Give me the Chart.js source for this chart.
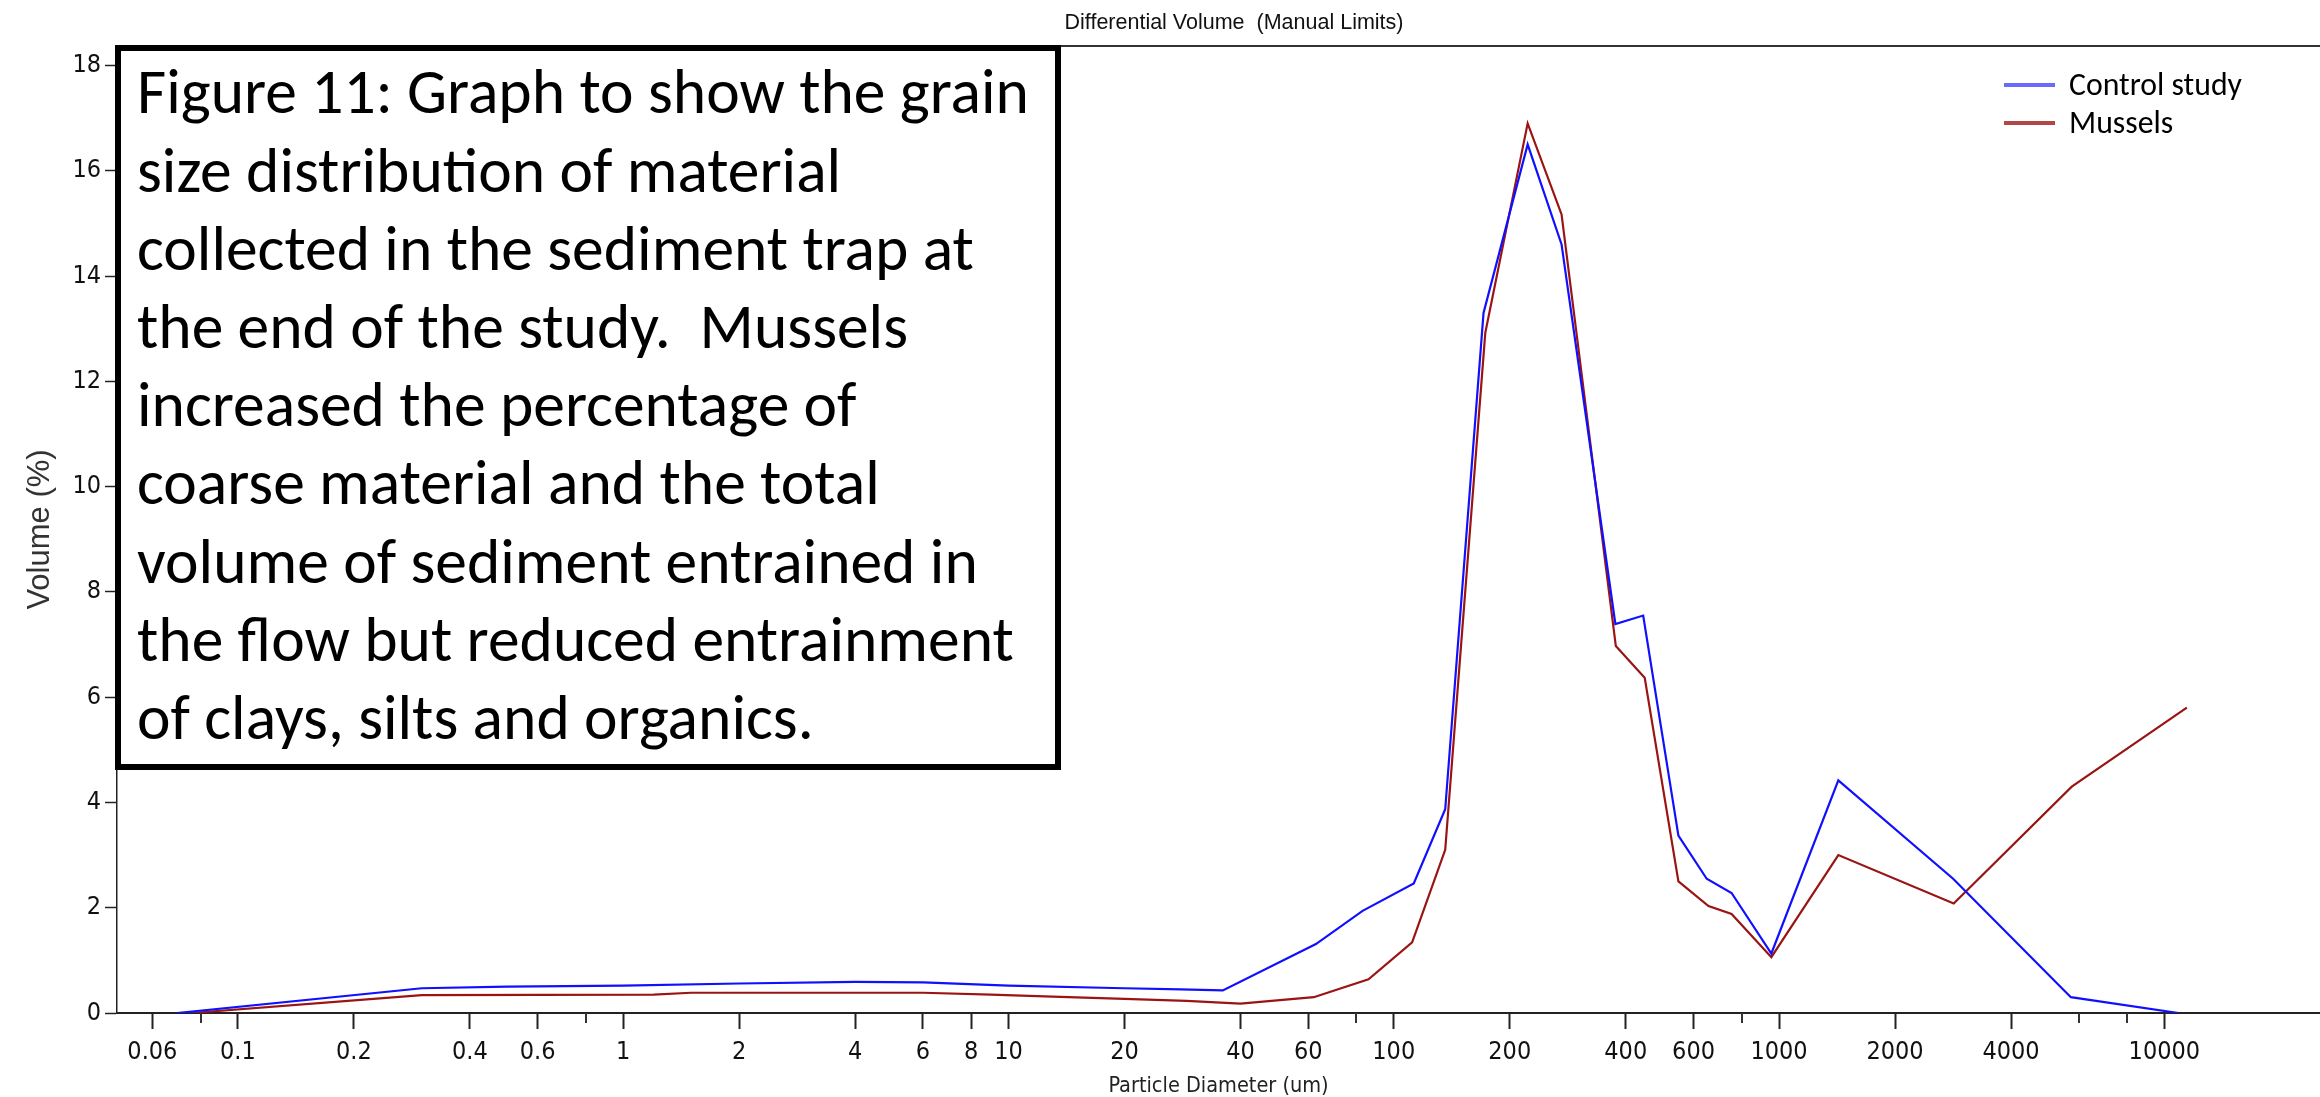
<!DOCTYPE html>
<html>
<head>
<meta charset="utf-8">
<title>Differential Volume</title>
<script src="https://cdn.jsdelivr.net/npm/chart.js@4.4.1/dist/chart.umd.min.js"></script>
<style>
  html, body { margin: 0; padding: 0; background: #fff; }
  #wrap { position: relative; width: 2320px; height: 1097px; overflow: hidden; }
  #chart { position: absolute; left: 0; top: 0; }
  #title {
    position: absolute; left: 0; width: 2468px; top: 9px; text-align: center;
    font: 21.5px 'Liberation Sans Narrow', 'Arial Narrow', sans-serif; color: #111; line-height: 26px;
  }
  #caption {
    position: absolute; left: 115px; top: 45px; width: 934px; height: 713px;
    border: 6px solid #000; background: #fff;
  }
  #caption-text { position: absolute; left: 16px; white-space: pre; color: #000; }
  .legend-row { position: absolute; left: 2004px; }
  .legend-row .swatch { position: absolute; left: 0; width: 51px; height: 4px; }
  .legend-row .label { position: absolute; left: 65px; white-space: pre; color: #000; }
</style>
</head>
<body>
<div id="wrap">
  <canvas id="chart" width="2320" height="1097"></canvas>
  <div id="title">Differential Volume&nbsp; (Manual Limits)</div>
  <div id="caption"><div id="caption-text"></div></div>
  <div id="legend"></div>
</div>
<script>
// Particle diameter (um) and volume (%)
const controlSize = [0.0695, 0.3, 0.5, 1, 2, 4, 6, 10, 20, 28, 36, 62.8, 83, 112.7, 136, 171, 222.6, 272.6, 376, 444, 548, 649, 753, 955, 1425, 2830, 5720, 10880];
const controlVol  = [0, 0.47, 0.5, 0.52, 0.56, 0.59, 0.58, 0.52, 0.47, 0.45, 0.43, 1.31, 1.94, 2.46, 3.87, 13.3, 16.5, 14.6, 7.39, 7.55, 3.37, 2.55, 2.28, 1.13, 4.42, 2.55, 0.3, 0];

const musselSize = [0.0757, 0.3, 1.2, 1.5, 6, 9, 13, 20, 29, 40, 62, 86, 111.6, 136, 172.8, 222.6, 272.6, 377, 448, 548, 656, 753, 955, 1425, 2840, 5750, 11440];
const musselVol  = [0, 0.34, 0.35, 0.385, 0.385, 0.35, 0.31, 0.27, 0.23, 0.18, 0.30, 0.64, 1.34, 3.1, 12.92, 16.9, 15.17, 6.97, 6.37, 2.5, 2.03, 1.88, 1.06, 3.0, 2.08, 4.3, 5.8];

const seriesNames = ['Control study', 'Mussels'];
const seriesColors = ['#1010ff', '#9a1414'];
const legendColors = ['#6a6aff', '#b04848'];

// axis ticks
const xLabelled = [0.06, 0.1, 0.2, 0.4, 0.6, 1, 2, 4, 6, 8, 10, 20, 40, 60, 100, 200, 400, 600, 1000, 2000, 4000, 10000];
const xMinor = [0.08, 0.8, 80, 800, 6000, 8000];
const yTicks = [0, 2, 4, 6, 8, 10, 12, 14, 16, 18];

const captionLines = [
  'Figure 11: Graph to show the grain',
  'size distribution of material',
  'collected in the sediment trap at',
  'the end of the study.  Mussels',
  'increased the percentage of',
  'coarse material and the total',
  'volume of sediment entrained in',
  'the flow but reduced entrainment',
  'of clays, silts and organics.'
];

const NARROW = "'Liberation Sans Narrow', 'Arial Narrow', 'DejaVu Sans Condensed', sans-serif";
const HUMANIST = "Carlito, Calibri, Lato, 'Open Sans', sans-serif";

// size a font so a string is a given width
const measureCtx = document.createElement('canvas').getContext('2d');
function fitSize(text, family, width) {
    measureCtx.font = '100px ' + family;
    return 100 * width / measureCtx.measureText(text).width;
}
function baselineOffset(size, family, lineHeight) {
    measureCtx.font = size + 'px ' + family;
    const m = measureCtx.measureText('Fg');
    const a = m.fontBoundingBoxAscent, d = m.fontBoundingBoxDescent;
    return (lineHeight - (a + d)) / 2 + a;
}

// Caption box
const capSize = fitSize(captionLines[0], HUMANIST, 892);
const capLH = 78.2;
const capText = document.getElementById('caption-text');
capText.style.font = capSize.toFixed(2) + 'px ' + HUMANIST;
capText.style.lineHeight = capLH + 'px';
capText.textContent = captionLines.join('\n');
// first baseline at y=114 on the page; box inner top is 51
capText.style.top = (114 - 51 - baselineOffset(capSize, HUMANIST, capLH)).toFixed(1) + 'px';

// Legend
const legSize = fitSize(seriesNames[0], HUMANIST, 173);
const legend = document.getElementById('legend');
seriesNames.forEach((name, i) => {
    const baseY = [95, 133][i];
    const row = document.createElement('div');
    row.className = 'legend-row';
    row.style.top = '0px';
    const sw = document.createElement('div');
    sw.className = 'swatch';
    sw.style.background = legendColors[i];
    sw.style.top = (baseY - 12) + 'px';
    const lb = document.createElement('div');
    lb.className = 'label';
    lb.style.font = legSize.toFixed(2) + 'px ' + HUMANIST;
    lb.style.lineHeight = '40px';
    lb.style.top = (baseY - baselineOffset(legSize, HUMANIST, 40)).toFixed(1) + 'px';
    lb.textContent = name;
    row.appendChild(sw);
    row.appendChild(lb);
    legend.appendChild(row);
});

// top frame line + short unlabeled ticks
const frameAndMinorTicks = {
    id: 'frameAndMinorTicks',
    afterDraw(chart) {
        const {ctx, chartArea, scales} = chart;
        ctx.save();
        ctx.strokeStyle = '#333';
        ctx.lineWidth = 2;
        ctx.beginPath();
        ctx.moveTo(chartArea.left, chartArea.top);
        ctx.lineTo(chartArea.right, chartArea.top);
        ctx.stroke();
        xMinor.forEach(v => {
            const px = Math.round(scales.x.getPixelForValue(v));
            ctx.beginPath();
            ctx.moveTo(px, chartArea.bottom);
            ctx.lineTo(px, chartArea.bottom + 10);
            ctx.stroke();
        });
        ctx.restore();
    }
};

const allXTicks = xLabelled.concat(xMinor).sort((a, b) => a - b);

new Chart(document.getElementById('chart'), {
    type: 'line',
    data: {
        datasets: [
            {
                label: seriesNames[0],
                data: controlSize.map((s, i) => ({x: s, y: controlVol[i]})),
                borderColor: seriesColors[0],
                borderWidth: 2.2,
                pointRadius: 0,
                tension: 0
            },
            {
                label: seriesNames[1],
                data: musselSize.map((s, i) => ({x: s, y: musselVol[i]})),
                borderColor: seriesColors[1],
                borderWidth: 2.2,
                pointRadius: 0,
                tension: 0
            }
        ]
    },
    options: {
        responsive: false,
        animation: false,
        layout: { padding: { top: 46 } },
        plugins: {
            legend: { display: false },
            tooltip: { enabled: false },
            title: { display: false }
        },
        scales: {
            x: {
                type: 'logarithmic',
                min: 0.04856,
                max: 25350,
                afterBuildTicks: s => { s.ticks = allXTicks.map(v => ({value: v})); },
                afterFit: s => { s.height = 84; },
                border: { display: true, color: '#222', width: 2 },
                grid: {
                    drawOnChartArea: false,
                    drawTicks: true,
                    tickLength: 16,
                    tickWidth: 2,
                    tickColor: c => (c.tick && xMinor.includes(c.tick.value)) ? 'rgba(0,0,0,0)' : '#222'
                },
                ticks: {
                    autoSkip: false,
                    maxRotation: 0,
                    padding: 8,
                    color: '#111',
                    font: { family: NARROW, size: 25 },
                    callback: v => xLabelled.includes(v) ? String(v) : ''
                },
                title: {
                    display: true,
                    text: 'Particle Diameter (um)',
                    color: '#222',
                    font: { family: NARROW, size: 21.5, lineHeight: 1.2 },
                    padding: { top: 0, bottom: -2 }
                }
            },
            y: {
                type: 'linear',
                min: 0,
                max: 18.37,
                afterBuildTicks: s => { s.ticks = yTicks.map(v => ({value: v})); },
                afterFit: s => { s.width = 117; },
                border: { display: true, color: '#222', width: 1.5 },
                grid: {
                    drawOnChartArea: false,
                    drawTicks: true,
                    tickLength: 12,
                    tickWidth: 1.5,
                    tickColor: '#222'
                },
                ticks: {
                    padding: 4,
                    color: '#111',
                    font: { family: NARROW, size: 25 }
                },
                title: {
                    display: true,
                    text: 'Volume (%)',
                    color: '#333',
                    font: { family: "'Liberation Sans', Arial, sans-serif", size: 31, lineHeight: 1.2 },
                    padding: { top: 22, bottom: 0 }
                }
            }
        }
    },
    plugins: [frameAndMinorTicks]
});
</script>
</body>
</html>
